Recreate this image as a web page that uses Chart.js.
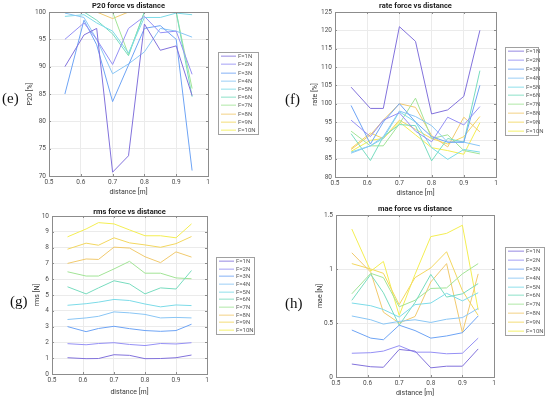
<!DOCTYPE html>
<html>
<head>
<meta charset="utf-8">
<script src="https://cdn.jsdelivr.net/npm/chart.js@4.4.1/dist/chart.umd.min.js"></script>
<style>
  body { margin: 0; background: #fff; width: 550px; height: 399px; position: relative; overflow: hidden; }
  canvas { position: absolute; }
  .rotulo { position: absolute; font-family: 'Liberation Serif', 'DejaVu Serif', serif; font-size: 15px; color: #111; line-height: 1; }
</style>
</head>
<body>
<canvas id="graf-e" width="275" height="200" style="left:0;top:0"></canvas>
<canvas id="graf-f" width="275" height="200" style="left:275px;top:0"></canvas>
<canvas id="graf-g" width="275" height="199" style="left:0;top:200px"></canvas>
<canvas id="graf-h" width="275" height="199" style="left:275px;top:200px"></canvas>
<div class="rotulo" style="left:2px;top:91px">(e)</div>
<div class="rotulo" style="left:285px;top:92px">(f)</div>
<div class="rotulo" style="left:10px;top:294px">(g)</div>
<div class="rotulo" style="left:285px;top:296px">(h)</div>
<script>
// Dados
const distancias = [0.55, 0.61, 0.65, 0.7, 0.75, 0.8, 0.85, 0.9, 0.95];
const forcas = ['F=1N', 'F=2N', 'F=3N', 'F=4N', 'F=5N', 'F=6N', 'F=7N', 'F=8N', 'F=9N', 'F=10N'];
const ticksX = [0.5, 0.6, 0.7, 0.8, 0.9, 1];

// P20 [%] - uma linha por força
const p20 = [
  [90, 95.8, 97, 70.7, 73.7, 97.8, 93, 93.8, 84.7],
  [95, 98, 95, 90.4, 97, 99.2, 96.2, 96.5, 88.6],
  [85, 98.5, 94, 83.6, 90.3, 97, 97.5, 95, 71],
  [99.8, 99, 95, 88.7, 90.5, 92.7, 97, 96.5, 95.4],
  [99.2, 99.5, 98, 96.5, 92.5, 99, 99, 99.8, 99.5],
  [100, 100, 98.5, 96, 92, 100, 100, 100, 84.5],
  [100, 100, 100, 100, 92.2, 100, 100, 100, 86],
  [100, 100, 100, 98.8, 100, 100, 100, 100, 100],
  [100, 100, 100, 100, 100, 100, 100, 100, 100],
  [100, 100, 100, 100, 100, 100, 100, 100, 100]
];

// rate [%]
const taxa = [
  [104.5, 98.7, 98.7, 121, 117, 97.2, 98.3, 102, 120],
  [95.5, 91, 95.5, 97.5, 92.5, 89.6, 96.3, 94.2, 99.2],
  [99.5, 89, 95, 100, 95, 91, 89.5, 89.5, 105],
  [86.5, 88.5, 91, 98, 96.5, 94, 89.5, 89.5, 88.5],
  [86.8, 88.5, 90.5, 97.8, 95, 88, 84.8, 87.5, 86.8],
  [91.8, 84.5, 91, 94.3, 94, 84.4, 90.5, 89.5, 109],
  [92.5, 88.5, 88.5, 94.5, 101.5, 90.5, 91.5, 87.2, 86.3],
  [87.5, 91.5, 95.5, 100, 99, 91.3, 88.2, 96.3, 92.3],
  [87.8, 92, 90.5, 95.5, 93, 90.5, 89, 91, 96.5],
  [87, 90, 90.5, 95, 91.5, 88, 87.2, 86.2, 94.8]
];

// rms [N]
const rms = [
  [1.03, 0.97, 0.98, 1.22, 1.18, 0.97, 0.98, 1.03, 1.2],
  [1.92, 1.85, 1.93, 1.98, 1.87, 1.8, 1.93, 1.9, 1.98],
  [3.0, 2.68, 2.88, 3.02, 2.87, 2.75, 2.7, 2.75, 3.15],
  [3.45, 3.55, 3.65, 3.93, 3.87, 3.77, 3.55, 3.58, 3.55],
  [4.35, 4.45, 4.55, 4.72, 4.65, 4.43, 4.25, 4.37, 4.33],
  [5.52, 5.07, 5.45, 5.9, 5.7, 5.07, 5.45, 5.38, 6.55],
  [6.47, 6.2, 6.2, 6.65, 7.13, 6.38, 6.38, 6.08, 6.03],
  [7.0, 7.28, 7.25, 8.03, 7.97, 7.42, 7.05, 7.73, 7.4],
  [7.9, 8.28, 8.15, 8.62, 8.3, 8.17, 8.02, 8.25, 8.7],
  [8.68, 9.18, 9.58, 9.5, 9.12, 8.75, 8.75, 8.62, 9.5]
];

// mae [N]
const mae = [
  [0.12, 0.095, 0.09, 0.255, 0.24, 0.085, 0.1, 0.1, 0.26],
  [0.22, 0.225, 0.24, 0.29, 0.23, 0.23, 0.215, 0.22, 0.36],
  [0.435, 0.36, 0.345, 0.48, 0.43, 0.36, 0.38, 0.41, 0.565],
  [0.565, 0.53, 0.49, 0.515, 0.53, 0.505, 0.535, 0.55, 0.635],
  [0.685, 0.66, 0.625, 0.555, 0.67, 0.685, 0.775, 0.705, 0.78],
  [0.71, 0.95, 0.78, 0.48, 0.69, 0.95, 0.74, 0.77, 0.865],
  [0.77, 0.96, 0.92, 0.65, 0.71, 0.82, 0.825, 0.955, 1.05],
  [1.15, 0.97, 0.6, 0.5, 0.56, 0.88, 1.05, 0.41, 0.955],
  [1.05, 1.0, 0.96, 0.67, 0.92, 1.01, 1.16, 0.8, 0.57],
  [1.37, 0.98, 1.07, 0.57, 0.95, 1.3, 1.33, 1.405, 0.62]
];

// Cores das linhas (roxo -> amarelo)
const cores = [
  '#8272dc', '#9590f5', '#6ea4f5', '#8ac6f5', '#7cdbe8',
  '#78dcbf', '#a2e496', '#f1ca6e', '#f3d75f', '#f4ee52'
];

const fonte = 'Roboto, "Liberation Sans", sans-serif';

// Plugin que desenha caixa, marcas, título e legenda no estilo MATLAB
const decoracao = {
  id: 'decoracao',
  afterDatasetsDraw(chart, args, opts) {
    const { ctx, chartArea: a, scales } = chart;
    ctx.save();
    // caixa dos eixos
    ctx.strokeStyle = '#8c8c8c';
    ctx.lineWidth = 1;
    ctx.strokeRect(Math.round(a.left) + 0.5, Math.round(a.top) + 0.5,
      Math.round(a.right - a.left), Math.round(a.bottom - a.top));
    // marcas internas
    ctx.beginPath();
    scales.x.ticks.forEach(t => {
      const px = Math.round(scales.x.getPixelForValue(t.value)) + 0.5;
      ctx.moveTo(px, a.bottom); ctx.lineTo(px, a.bottom - 2);
      ctx.moveTo(px, a.top); ctx.lineTo(px, a.top + 2);
    });
    scales.y.ticks.forEach(t => {
      const py = Math.round(scales.y.getPixelForValue(t.value)) + 0.5;
      ctx.moveTo(a.left, py); ctx.lineTo(a.left + 2, py);
      ctx.moveTo(a.right, py); ctx.lineTo(a.right - 2, py);
    });
    ctx.stroke();
    // título
    ctx.fillStyle = '#1a1a1a';
    ctx.font = 'bold 7.5px ' + fonte;
    ctx.textAlign = 'center';
    ctx.textBaseline = 'middle';
    ctx.fillText(opts.titulo, (a.left + a.right) / 2, opts.tituloY);
    // legenda
    const L = opts.legenda;
    ctx.fillStyle = '#fff';
    ctx.fillRect(L.x, L.y, L.w, L.h);
    ctx.strokeStyle = '#a0a0a0';
    ctx.strokeRect(L.x + 0.5, L.y + 0.5, L.w, L.h);
    const passo = L.h / forcas.length;
    ctx.font = '6px ' + fonte;
    ctx.textAlign = 'left';
    forcas.forEach((rotulo, i) => {
      const y = Math.round(L.y + passo * (i + 0.5));
      // linha de amostra espalhada em 2 px (parece a imagem original, mais suave)
      ctx.fillStyle = cores[i];
      ctx.globalAlpha = 0.6;
      ctx.fillRect(L.x + 3, y - 0.5, L.linha - 3, 1.4);
      ctx.globalAlpha = 1;
      ctx.fillStyle = '#5a5a5a';
      ctx.fillText(rotulo, L.x + L.linha + 2, y + 0.5);
    });
    ctx.restore();
  }
};

// Configuração de cada painel
const paineis = [
  { id: 'graf-e', titulo: 'P20 force vs distance', yTitulo: 'P20 [%]', valores: p20,
    yMin: 70, yMax: 100, yPasso: 5, L: 49, T: 12, R: 208, B: 176, W: 275, H: 200,
    tituloY: 6, yTituloX: 30, xTituloY: 192,
    legenda: { x: 218, y: 52, w: 40, h: 82, linha: 18 } },
  { id: 'graf-f', titulo: 'rate force vs distance', yTitulo: 'rate [%]', valores: taxa,
    yMin: 80, yMax: 125, yPasso: 5, L: 60, T: 12, R: 221, B: 177, W: 275, H: 200,
    tituloY: 6, yTituloX: 40, xTituloY: 193,
    legenda: { x: 230, y: 47, w: 33, h: 88, linha: 19 } },
  { id: 'graf-g', titulo: 'rms force vs distance', yTitulo: 'rms [N]', valores: rms,
    yMin: 0, yMax: 10, yPasso: 1, L: 52, T: 16, R: 207, B: 174, W: 275, H: 199,
    tituloY: 12, yTituloX: 37.5, xTituloY: 192,
    legenda: { x: 216, y: 57, w: 38, h: 77, linha: 18 } },
  { id: 'graf-h', titulo: 'mae force vs distance', yTitulo: 'mae [N]', valores: mae,
    yMin: 0, yMax: 1.5, yPasso: 0.5, L: 61, T: 15, R: 219, B: 177, W: 275, H: 199,
    tituloY: 9, yTituloX: 45, xTituloY: 193,
    legenda: { x: 230, y: 47, w: 39, h: 88, linha: 19 } }
];

function formatar(v) {
  return String(parseFloat(Number(v).toFixed(2)));
}

function criarPainel(p) {
  const ctx = document.getElementById(p.id).getContext('2d');
  const padEsq = p.yTituloX - 4.2;
  const padBaixo = p.H - p.xTituloY - 4.2;

  const datasets = forcas.map((rotulo, i) => ({
    label: rotulo,
    data: distancias.map((d, j) => ({ x: d, y: p.valores[i][j] })),
    borderColor: cores[i],
    backgroundColor: cores[i],
    borderWidth: 1,
    pointRadius: 0,
    tension: 0,
    fill: false
  }));

  return new Chart(ctx, {
    type: 'line',
    data: { datasets: datasets },
    plugins: [decoracao],
    options: {
      responsive: false,
      animation: false,
      layout: {
        padding: { left: padEsq, top: p.T, right: p.W - p.R, bottom: padBaixo }
      },
      plugins: {
        legend: { display: false },
        tooltip: { enabled: false },
        decoracao: { titulo: p.titulo, tituloY: p.tituloY, legenda: p.legenda }
      },
      scales: {
        x: {
          type: 'linear',
          min: 0.5,
          max: 1,
          afterBuildTicks: s => { s.ticks = ticksX.map(v => ({ value: v })); },
          afterFit: s => { s.height = p.H - p.B - padBaixo; },
          ticks: {
            color: '#4d4d4d',
            font: { size: 6.5, family: fonte },
            padding: 2,
            maxRotation: 0,
            callback: formatar
          },
          grid: { color: '#ebebeb', drawTicks: false },
          border: { display: false },
          title: {
            display: true,
            text: 'distance [m]',
            color: '#3a3a3a',
            font: { size: 7, family: fonte },
            padding: 0
          }
        },
        y: {
          min: p.yMin,
          max: p.yMax,
          afterFit: s => { s.width = p.L - padEsq; },
          ticks: {
            stepSize: p.yPasso,
            color: '#4d4d4d',
            font: { size: 6.5, family: fonte },
            padding: 3,
            callback: formatar
          },
          grid: { color: '#ebebeb', drawTicks: false },
          border: { display: false },
          title: {
            display: true,
            text: p.yTitulo,
            color: '#3a3a3a',
            font: { size: 7, family: fonte },
            padding: 0
          }
        }
      }
    }
  });
}

paineis.forEach(criarPainel);
</script>
</body>
</html>
